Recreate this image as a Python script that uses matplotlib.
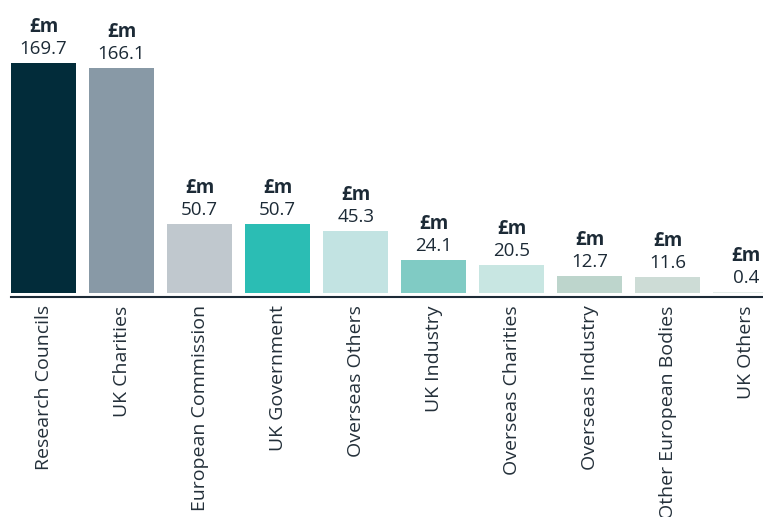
import matplotlib
matplotlib.use('Agg')
import matplotlib.pyplot as plt

# Income by source (£m)
categories = ['Research Councils', 'UK Charities', 'European Commission', 'UK Government',
              'Overseas Others', 'UK Industry', 'Overseas Charities', 'Overseas Industry',
              'Other European Bodies', 'UK Others']
values = [169.7, 166.1, 50.7, 50.7, 45.3, 24.1, 20.5, 12.7, 11.6, 0.4]
colors = ['#022c3a', '#8899a6', '#c0c8ce', '#2bbdb4', '#c2e3e2',
          '#80cbc4', '#c8e6e2', '#bdd5cc', '#cddcd6', '#e3ebe8']

plt.rcParams['font.family'] = ['Open Sans', 'DejaVu Sans']
text_color = '#1c2a36'

fig = plt.figure(figsize=(7.63, 5.17), dpi=100)
ax = fig.add_axes([11 / 763, 220 / 517, 752 / 763, 297 / 517])

x = range(len(categories))
ax.bar(x, values, width=0.83, color=colors)

for i, v in enumerate(values):
    ax.annotate(f'{v:.1f}', (i, v), xytext=(0, 5), textcoords='offset pixels',
                ha='center', va='bottom', fontsize=13.5, color=text_color)
    ax.annotate('£m', (i, v), xytext=(0, 26), textcoords='offset pixels',
                ha='center', va='bottom', fontsize=13.5, fontweight='bold', color=text_color)

ax.set_xlim(-0.417, 9.22)
ax.set_ylim(-3, 216)
ax.set_xticks(list(x))
ax.set_xticklabels(categories, rotation=90, fontsize=14, color='#24303a', va='top')
ax.tick_params(axis='x', length=0, pad=6)
ax.set_yticks([])
for s in ['top', 'right', 'left']:
    ax.spines[s].set_visible(False)
ax.spines['bottom'].set_color('#1c2a36')
ax.spines['bottom'].set_linewidth(1.5)

fig.savefig('out.png', dpi=100)
